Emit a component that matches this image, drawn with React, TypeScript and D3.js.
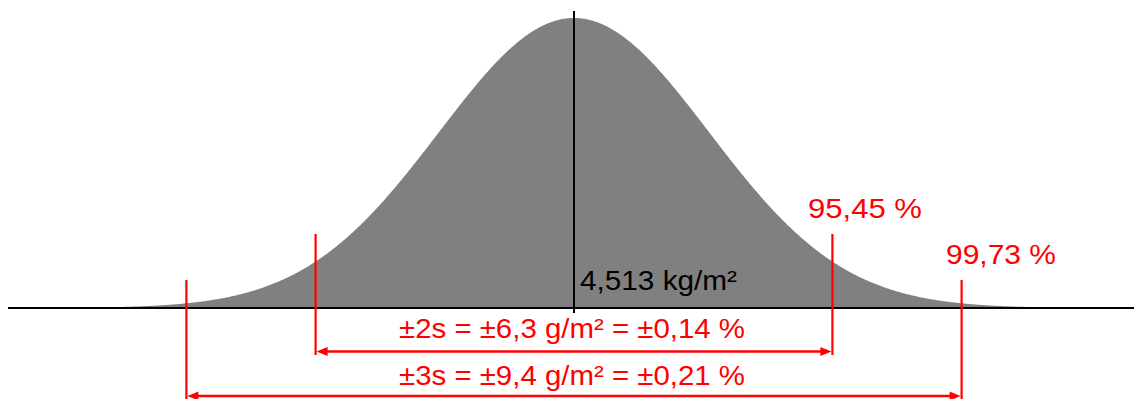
import React from "react";
import * as d3 from "d3";

// ---- data ----
const meanLabel = "4,513 kg/m²";
const sigmaMultiples = [2, 3];
const coverageLabels = ["95,45 %", "99,73 %"];
const intervalLabels = ["±2s = ±6,3 g/m² = ±0,14 %", "±3s = ±9,4 g/m² = ±0,21 %"];
const curveSpread = 1.045; // width of drawn density in units of s
const zDomain = [-4.6, 4.6];

const W = 1134;
const H = 399;
const FONT = "'Liberation Sans', Arial, sans-serif";
const RED = "#ff0000";

export default function App() {
  const x = d3.scaleLinear().domain([0, 1]).range([574, 574 + 129.2]);
  const y = d3.scaleLinear().domain([0, 1]).range([308, 18]);

  const pts = d3.range(zDomain[0], zDomain[1] + 0.001, 0.01).map((z) => [
    z,
    Math.exp(-0.5 * (z / curveSpread) ** 2),
  ]);
  const area = d3
    .area<number[]>()
    .x((d) => x(d[0]))
    .y0(y(0))
    .y1((d) => y(d[1]));

  // layout per interval
  const lineTop = [234, 280];
  const lineBottom = [355, 399];
  const arrowY = [351.5, 396];
  const labelY = [338, 385];
  const covLabel = [
    { x: 808, y: 218, w: 114 },
    { x: 946, y: 264, w: 110 },
  ];

  const arrowHead = (tipX: number, yy: number, dir: number) =>
    `M${tipX},${yy} L${tipX + dir * 11},${yy - 4.5} L${tipX + dir * 11},${yy + 4.5} Z`;

  return (
    <svg
      width={W}
      height={H}
      style={{ position: "absolute", left: 0, top: 0, background: "#fff" }}
    >
      <path d={area(pts) || ""} fill="#808080" />
      <line x1={8} x2={1134} y1={y(0)} y2={y(0)} stroke="#000" strokeWidth={2} />
      <line x1={x(0)} x2={x(0)} y1={11} y2={313} stroke="#000" strokeWidth={2} />
      <text
        x={580}
        y={290}
        fontFamily={FONT}
        fontSize={27}
        fill="#000"
        textLength={157}
        lengthAdjust="spacingAndGlyphs"
      >
        {meanLabel}
      </text>
      {sigmaMultiples.map((k, i) => {
        const xl = x(-k);
        const xr = x(k);
        return (
          <g key={k}>
            <line x1={xl} x2={xl} y1={lineTop[i]} y2={lineBottom[i]} stroke={RED} strokeWidth={2.2} />
            <line x1={xr} x2={xr} y1={lineTop[i]} y2={lineBottom[i]} stroke={RED} strokeWidth={2.2} />
            <line x1={xl + 6} x2={xr - 6} y1={arrowY[i]} y2={arrowY[i]} stroke={RED} strokeWidth={2.4} />
            <path d={arrowHead(xl + 1, arrowY[i], 1)} fill={RED} />
            <path d={arrowHead(xr - 1, arrowY[i], -1)} fill={RED} />
            <text
              x={399}
              y={labelY[i]}
              fontFamily={FONT}
              fontSize={28}
              fill={RED}
              textLength={346}
              lengthAdjust="spacingAndGlyphs"
            >
              {intervalLabels[i]}
            </text>
            <text
              x={covLabel[i].x}
              y={covLabel[i].y}
              fontFamily={FONT}
              fontSize={28}
              fill={RED}
              textLength={covLabel[i].w}
              lengthAdjust="spacingAndGlyphs"
            >
              {coverageLabels[i]}
            </text>
          </g>
        );
      })}
    </svg>
  );
}
